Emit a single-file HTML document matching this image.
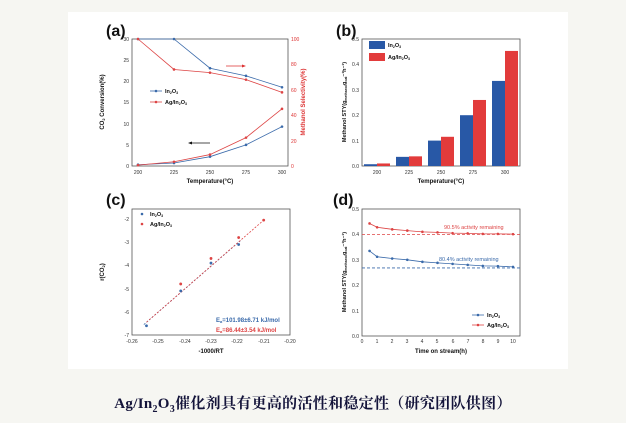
<!DOCTYPE html>
<html><head><meta charset="utf-8">
<style>
html,body{margin:0;padding:0;background:#f6f6f2;width:626px;height:423px;overflow:hidden}
svg{position:absolute;left:0;top:0}
text{font-family:"Liberation Sans",Arial,sans-serif}
.cap{position:absolute;left:0;width:626px;top:392px;text-align:center;font-family:"Liberation Serif","Noto Serif CJK SC",serif;font-weight:bold;font-size:15px;letter-spacing:0.3px;color:#14143a}
</style></head><body>
<svg width="626" height="423" xmlns="http://www.w3.org/2000/svg" id="s">
<rect x="68" y="12" width="500" height="357" fill="#fff"/>
<g font-size="5" fill="#333">
<text x="106" y="36" font-size="16" font-weight="bold" fill="#111">(a)</text>
<rect x="132" y="39" width="156" height="127" fill="none" stroke="#555" stroke-width="0.8"/>
<g text-anchor="end"><text x="129" y="41">30</text><text x="129" y="62">25</text><text x="129" y="83">20</text><text x="129" y="104">15</text><text x="129" y="126">10</text><text x="129" y="147">5</text><text x="129" y="168">0</text></g>
<g fill="#d33"><text x="291" y="41">100</text><text x="291" y="66">80</text><text x="291" y="92">60</text><text x="291" y="117">40</text><text x="291" y="143">20</text><text x="291" y="168">0</text></g>
<g text-anchor="middle"><text x="138" y="174">200</text><text x="174" y="174">225</text><text x="210" y="174">250</text><text x="246" y="174">275</text><text x="282" y="174">300</text></g>
<text x="210" y="183" text-anchor="middle" font-size="6" font-weight="bold" fill="#111">Temperature(°C)</text>
<text transform="translate(104,102) rotate(-90)" text-anchor="middle" font-size="6" font-weight="bold" fill="#111">CO<tspan font-size="4" dy="1">2</tspan><tspan dy="-1"> Conversion(%)</tspan></text>
<text transform="translate(305,102) rotate(-90)" text-anchor="middle" font-size="6" font-weight="bold" fill="#d33">Methanol Selectivity(%)</text>
<line x1="150" y1="91" x2="162" y2="91" stroke="#3a6aaa" stroke-width="0.8"/><circle cx="156" cy="91" r="1.3" fill="#3a6aaa"/>
<line x1="150" y1="102" x2="162" y2="102" stroke="#d44" stroke-width="0.8"/><circle cx="156" cy="102" r="1.3" fill="#d44"/>
<text x="165" y="93" font-size="5.5" font-weight="bold" fill="#111">In<tspan font-size="3.5" dy="1">2</tspan><tspan dy="-1">O</tspan><tspan font-size="3.5" dy="1">3</tspan></text>
<text x="165" y="104" font-size="5.5" font-weight="bold" fill="#111">Ag/In<tspan font-size="3.5" dy="1">2</tspan><tspan dy="-1">O</tspan><tspan font-size="3.5" dy="1">3</tspan></text>
<line x1="226" y1="66" x2="244" y2="66" stroke="#d33" stroke-width="0.8"/><polygon points="246,66 242,64.5 242,67.5" fill="#d33"/>
<line x1="190" y1="143" x2="210" y2="143" stroke="#111" stroke-width="0.8"/><polygon points="188,143 192,141.5 192,144.5" fill="#111"/>
<text x="336" y="36" font-size="16" font-weight="bold" fill="#111">(b)</text>
<rect x="362" y="39" width="158" height="127" fill="none" stroke="#555" stroke-width="0.8"/>
<g text-anchor="end"><text x="359" y="41">0.5</text><text x="359" y="66">0.4</text><text x="359" y="92">0.3</text><text x="359" y="117">0.2</text><text x="359" y="143">0.1</text><text x="359" y="168">0.0</text></g>
<g text-anchor="middle"><text x="377" y="174">200</text><text x="409" y="174">225</text><text x="441" y="174">250</text><text x="473" y="174">275</text><text x="505" y="174">300</text></g>
<text x="441" y="183" text-anchor="middle" font-size="6" font-weight="bold" fill="#111">Temperature(°C)</text>
<text transform="translate(346,102) rotate(-90)" text-anchor="middle" font-size="5.5" font-weight="bold" fill="#111">Methanol STY(g<tspan font-size="3.5" dy="1">methanol</tspan><tspan dy="-1">g</tspan><tspan font-size="3.5" dy="1">cat</tspan><tspan dy="-1">⁻¹h⁻¹)</tspan></text>
<rect x="369" y="41" width="16" height="8" fill="#2858a6"/><rect x="369" y="53" width="16" height="8" fill="#e23b3b"/>
<text x="388" y="47" font-size="5.5" font-weight="bold" fill="#111">In<tspan font-size="3.5" dy="1">2</tspan><tspan dy="-1">O</tspan><tspan font-size="3.5" dy="1">3</tspan></text>
<text x="388" y="59" font-size="5.5" font-weight="bold" fill="#111">Ag/In<tspan font-size="3.5" dy="1">2</tspan><tspan dy="-1">O</tspan><tspan font-size="3.5" dy="1">3</tspan></text>
<text x="106" y="205" font-size="16" font-weight="bold" fill="#111">(c)</text>
<rect x="132" y="209" width="158" height="126" fill="none" stroke="#555" stroke-width="0.8"/>
<g text-anchor="end"><text x="129" y="221">-2</text><text x="129" y="244">-3</text><text x="129" y="267">-4</text><text x="129" y="291">-5</text><text x="129" y="314">-6</text><text x="129" y="337">-7</text></g>
<g text-anchor="middle"><text x="132" y="343">-0.26</text><text x="158" y="343">-0.25</text><text x="185" y="343">-0.24</text><text x="211" y="343">-0.23</text><text x="237" y="343">-0.22</text><text x="264" y="343">-0.21</text><text x="290" y="343">-0.20</text></g>
<text x="211" y="353" text-anchor="middle" font-size="6" font-weight="bold" fill="#111">-1000/RT</text>
<text transform="translate(104,272) rotate(-90)" text-anchor="middle" font-size="6" font-weight="bold" fill="#111">r(CO<tspan font-size="4" dy="1">2</tspan><tspan dy="-1">)</tspan></text>
<circle cx="142" cy="214" r="1.3" fill="#3a6aaa"/><circle cx="142" cy="224" r="1.3" fill="#d44"/>
<text x="150" y="216" font-size="5.5" font-weight="bold" fill="#111">In<tspan font-size="3.5" dy="1">2</tspan><tspan dy="-1">O</tspan><tspan font-size="3.5" dy="1">3</tspan></text>
<text x="150" y="226" font-size="5.5" font-weight="bold" fill="#111">Ag/In<tspan font-size="3.5" dy="1">2</tspan><tspan dy="-1">O</tspan><tspan font-size="3.5" dy="1">3</tspan></text>
<text x="216" y="322" font-size="6" font-weight="bold" fill="#3a6aaa">E<tspan font-size="4" dy="1">a</tspan><tspan dy="-1">=101.98±6.71 kJ/mol</tspan></text>
<text x="216" y="332" font-size="6" font-weight="bold" fill="#d44">E<tspan font-size="4" dy="1">a</tspan><tspan dy="-1">=86.44±3.54 kJ/mol</tspan></text>
<text x="333" y="205" font-size="16" font-weight="bold" fill="#111">(d)</text>
<rect x="362" y="209" width="158" height="127" fill="none" stroke="#555" stroke-width="0.8"/>
<g text-anchor="end"><text x="359" y="211">0.5</text><text x="359" y="236">0.4</text><text x="359" y="262">0.3</text><text x="359" y="287">0.2</text><text x="359" y="313">0.1</text><text x="359" y="338">0.0</text></g>
<text x="441" y="353" text-anchor="middle" font-size="6" font-weight="bold" fill="#111">Time on stream(h)</text>
<text transform="translate(346,272) rotate(-90)" text-anchor="middle" font-size="5.5" font-weight="bold" fill="#111">Methanol STY(g<tspan font-size="3.5" dy="1">methanol</tspan><tspan dy="-1">g</tspan><tspan font-size="3.5" dy="1">cat</tspan><tspan dy="-1">⁻¹h⁻¹)</tspan></text>
<text x="444" y="229" font-size="5.5" fill="#d44">90.5% activity remaining</text>
<text x="439" y="261" font-size="5.5" fill="#3a6aaa">80.4% activity remaining</text>
<line x1="472" y1="315" x2="484" y2="315" stroke="#3a6aaa" stroke-width="0.8"/><circle cx="478" cy="315" r="1.3" fill="#3a6aaa"/>
<line x1="472" y1="325" x2="484" y2="325" stroke="#d44" stroke-width="0.8"/><circle cx="478" cy="325" r="1.3" fill="#d44"/>
<text x="487" y="317" font-size="5.5" font-weight="bold" fill="#111">In<tspan font-size="3.5" dy="1">2</tspan><tspan dy="-1">O</tspan><tspan font-size="3.5" dy="1">3</tspan></text>
<text x="487" y="327" font-size="5.5" font-weight="bold" fill="#111">Ag/In<tspan font-size="3.5" dy="1">2</tspan><tspan dy="-1">O</tspan><tspan font-size="3.5" dy="1">3</tspan></text>
<text x="362" y="343" text-anchor="middle">0</text><text x="377" y="343" text-anchor="middle">1</text><text x="392" y="343" text-anchor="middle">2</text><text x="407" y="343" text-anchor="middle">3</text><text x="422" y="343" text-anchor="middle">4</text><text x="437" y="343" text-anchor="middle">5</text><text x="453" y="343" text-anchor="middle">6</text><text x="468" y="343" text-anchor="middle">7</text><text x="483" y="343" text-anchor="middle">8</text><text x="498" y="343" text-anchor="middle">9</text><text x="513" y="343" text-anchor="middle">10</text>
</g>
<g id="g"></g>
</svg>
<div class="cap">Ag/In<sub style="font-size:10px">2</sub>O<sub style="font-size:10px">3</sub>催化剂具有更高的活性和稳定性（研究团队供图）</div>
<script>
var g=document.getElementById('g'),NS='http://www.w3.org/2000/svg';
function el(t,a){var e=document.createElementNS(NS,t);for(var k in a)e.setAttribute(k,a[k]);g.appendChild(e);}
var B='#3a6aaa',R='#d44';
function series(pts,c,dash){el('polyline',{points:pts.map(p=>p.join(',')).join(' '),fill:'none',stroke:c,'stroke-width':0.8,'stroke-dasharray':dash||''});pts.forEach(p=>el('circle',{cx:p[0],cy:p[1],r:1.3,fill:c}));}
var xa=[138,174,210,246,282];
function ya(v){return 166-v*127/30}function ys(v){return 166-v*1.27}
series([0.3,0.7,2.2,5,9.3].map((v,i)=>[xa[i],ya(v)]),B);
series([0.2,1,2.7,6.7,13.5].map((v,i)=>[xa[i],ya(v)]),R);
series([100,100,77,71,62].map((v,i)=>[xa[i],ys(v)]),B);
series([100,76,73.5,68,58].map((v,i)=>[xa[i],ys(v)]),R);
var xb=[377,409,441,473,505];
[0.007,0.036,0.1,0.2,0.335].forEach((v,i)=>el('rect',{x:xb[i]-13,y:166-v*254,width:13,height:v*254,fill:'#2858a6'}));
[0.01,0.038,0.115,0.26,0.453].forEach((v,i)=>el('rect',{x:xb[i],y:166-v*254,width:13,height:v*254,fill:'#e23b3b'}));
function xc(v){return 132+(v+0.26)*158/0.06}function yc(v){return 335-(v+7)*23.2}
var cb=[[-0.2545,-6.6],[-0.2415,-5.1],[-0.23,-3.9],[-0.2195,-3.1]],cr=[[-0.2415,-4.8],[-0.23,-3.7],[-0.2195,-2.8],[-0.21,-2.05]];
el('line',{x1:xc(-0.2555),y1:yc(-6.55),x2:xc(-0.2185),y2:yc(-2.9),stroke:B,'stroke-width':0.8,'stroke-dasharray':'2,1.5'});
el('line',{x1:xc(-0.2545),y1:yc(-6.45),x2:xc(-0.21),y2:yc(-2.05),stroke:R,'stroke-width':0.8,'stroke-dasharray':'2,1.5'});
cb.forEach(p=>el('circle',{cx:xc(p[0]),cy:yc(p[1]),r:1.4,fill:B}));
cr.forEach(p=>el('circle',{cx:xc(p[0]),cy:yc(p[1]),r:1.4,fill:R}));
function xd(v){return 362+v*15.1}function yd(v){return 336-v*254}
el('line',{x1:362,y1:yd(0.4),x2:520,y2:yd(0.4),stroke:R,'stroke-width':0.8,'stroke-dasharray':'3,2'});
el('line',{x1:362,y1:yd(0.268),x2:520,y2:yd(0.268),stroke:B,'stroke-width':0.8,'stroke-dasharray':'3,2'});
var t=[0.5,1,2,3,4,5,6,7,8,9,10];
series([0.335,0.312,0.305,0.3,0.292,0.288,0.284,0.28,0.276,0.275,0.272].map((v,i)=>[xd(t[i]),yd(v)]),B);
series([0.443,0.428,0.42,0.415,0.41,0.408,0.405,0.404,0.402,0.402,0.401].map((v,i)=>[xd(t[i]),yd(v)]),R);
</script>
</body></html>
